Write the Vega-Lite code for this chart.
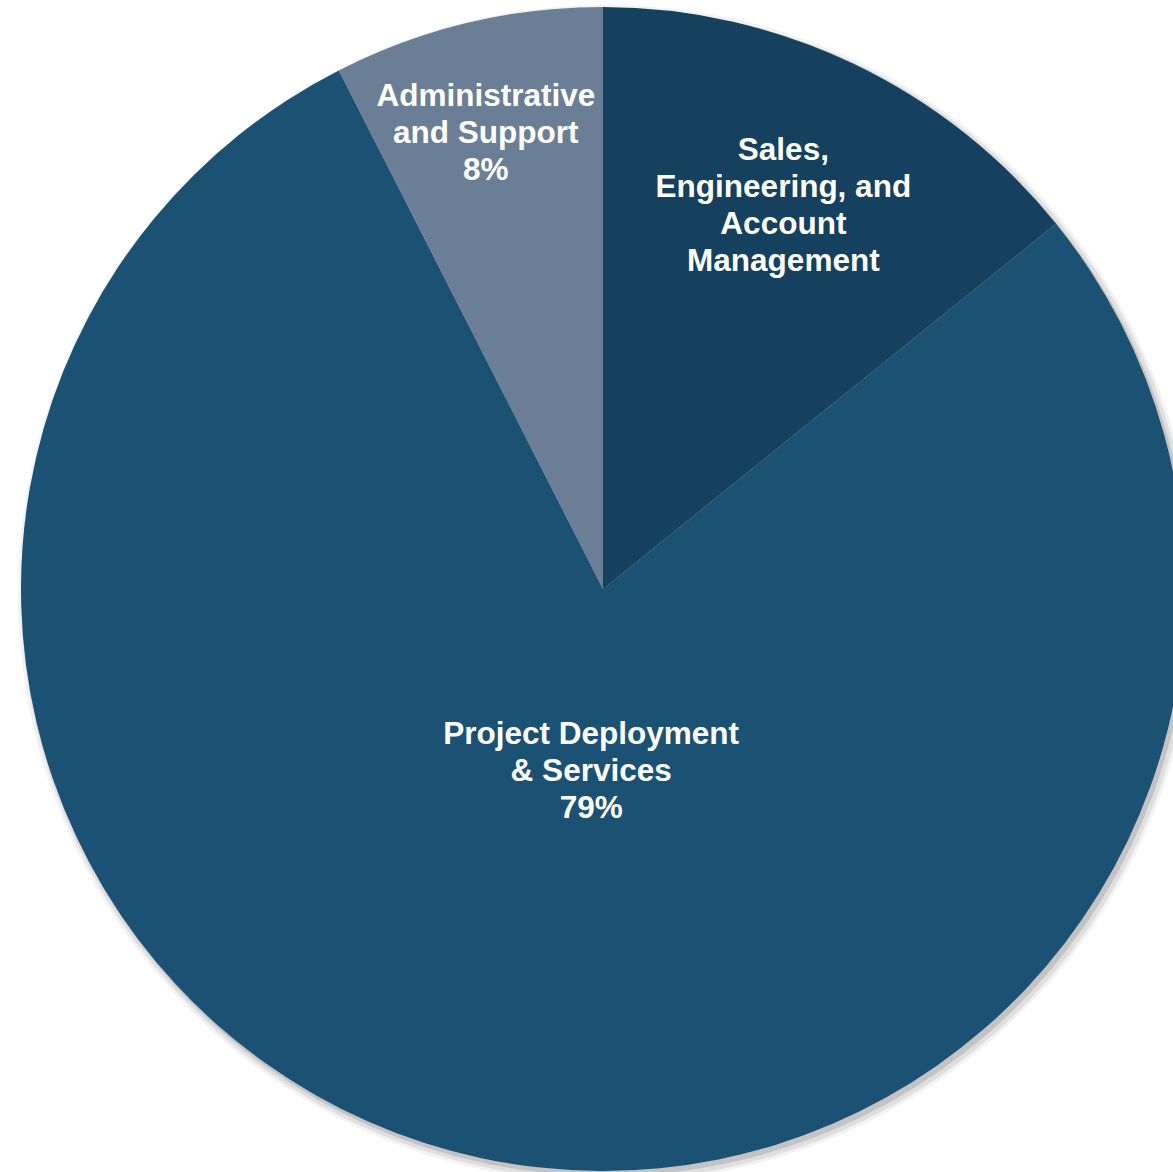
{
  "$schema": "https://vega.github.io/schema/vega-lite/v6.json",
  "width": 1140,
  "height": 1166,
  "autosize": {"type": "none"},
  "padding": {"left": 33, "top": 6, "right": 0, "bottom": 0},
  "background": "white",
  "config": {"view": {"stroke": null}},
  "data": {
    "values": [
      {"segment": "Sales, Engineering, and Account Management", "share": 14.2, "order": 1, "label": "Sales,\nEngineering, and\nAccount\nManagement"},
      {"segment": "Project Deployment & Services", "share": 78.3, "order": 2, "label": "Project Deployment\n& Services\n79%"},
      {"segment": "Administrative and Support", "share": 7.5, "order": 3, "label": "Administrative\nand Support\n8%"}
    ]
  },
  "encoding": {
    "theta": {"field": "share", "type": "quantitative", "stack": true},
    "order": {"field": "order", "type": "quantitative"}
  },
  "layer": [
    {
      "mark": {"type": "arc", "radius": 589, "xOffset": 4, "yOffset": 5, "fill": "#000000", "opacity": 0.05}
    },
    {
      "mark": {"type": "arc", "radius": 586, "xOffset": 4, "yOffset": 5, "fill": "#000000", "opacity": 0.08}
    },
    {
      "mark": {"type": "arc", "radius": 583, "xOffset": 3, "yOffset": 4, "fill": "#000000", "opacity": 0.12}
    },
    {
      "mark": {"type": "arc", "radius": 582},
      "encoding": {
        "color": {
          "field": "segment",
          "type": "nominal",
          "scale": {
            "domain": ["Sales, Engineering, and Account Management", "Project Deployment & Services", "Administrative and Support"],
            "range": ["#15405e", "#1b5173", "#6a7f96"]
          },
          "legend": null
        }
      }
    },
    {
      "mark": {"type": "text", "radius": 425, "dx": -3, "dy": -55, "font": "Liberation Sans", "fontWeight": "bold", "fontSize": 31.5, "lineHeight": 37, "lineBreak": "\n", "fill": "white", "align": "center", "baseline": "middle"},
      "encoding": {"text": {"condition": {"test": "datum.order == 1", "field": "label"}, "value": ""}}
    },
    {
      "mark": {"type": "text", "radius": 181, "dx": 26, "dy": -31, "font": "Liberation Sans", "fontWeight": "bold", "fontSize": 31.5, "lineHeight": 37, "lineBreak": "\n", "fill": "white", "align": "center", "baseline": "middle"},
      "encoding": {"text": {"condition": {"test": "datum.order == 2", "field": "label"}, "value": ""}}
    },
    {
      "mark": {"type": "text", "radius": 472, "dx": -7, "dy": -33, "font": "Liberation Sans", "fontWeight": "bold", "fontSize": 31.5, "lineHeight": 37, "lineBreak": "\n", "fill": "white", "align": "center", "baseline": "middle"},
      "encoding": {"text": {"condition": {"test": "datum.order == 3", "field": "label"}, "value": ""}}
    }
  ]
}
